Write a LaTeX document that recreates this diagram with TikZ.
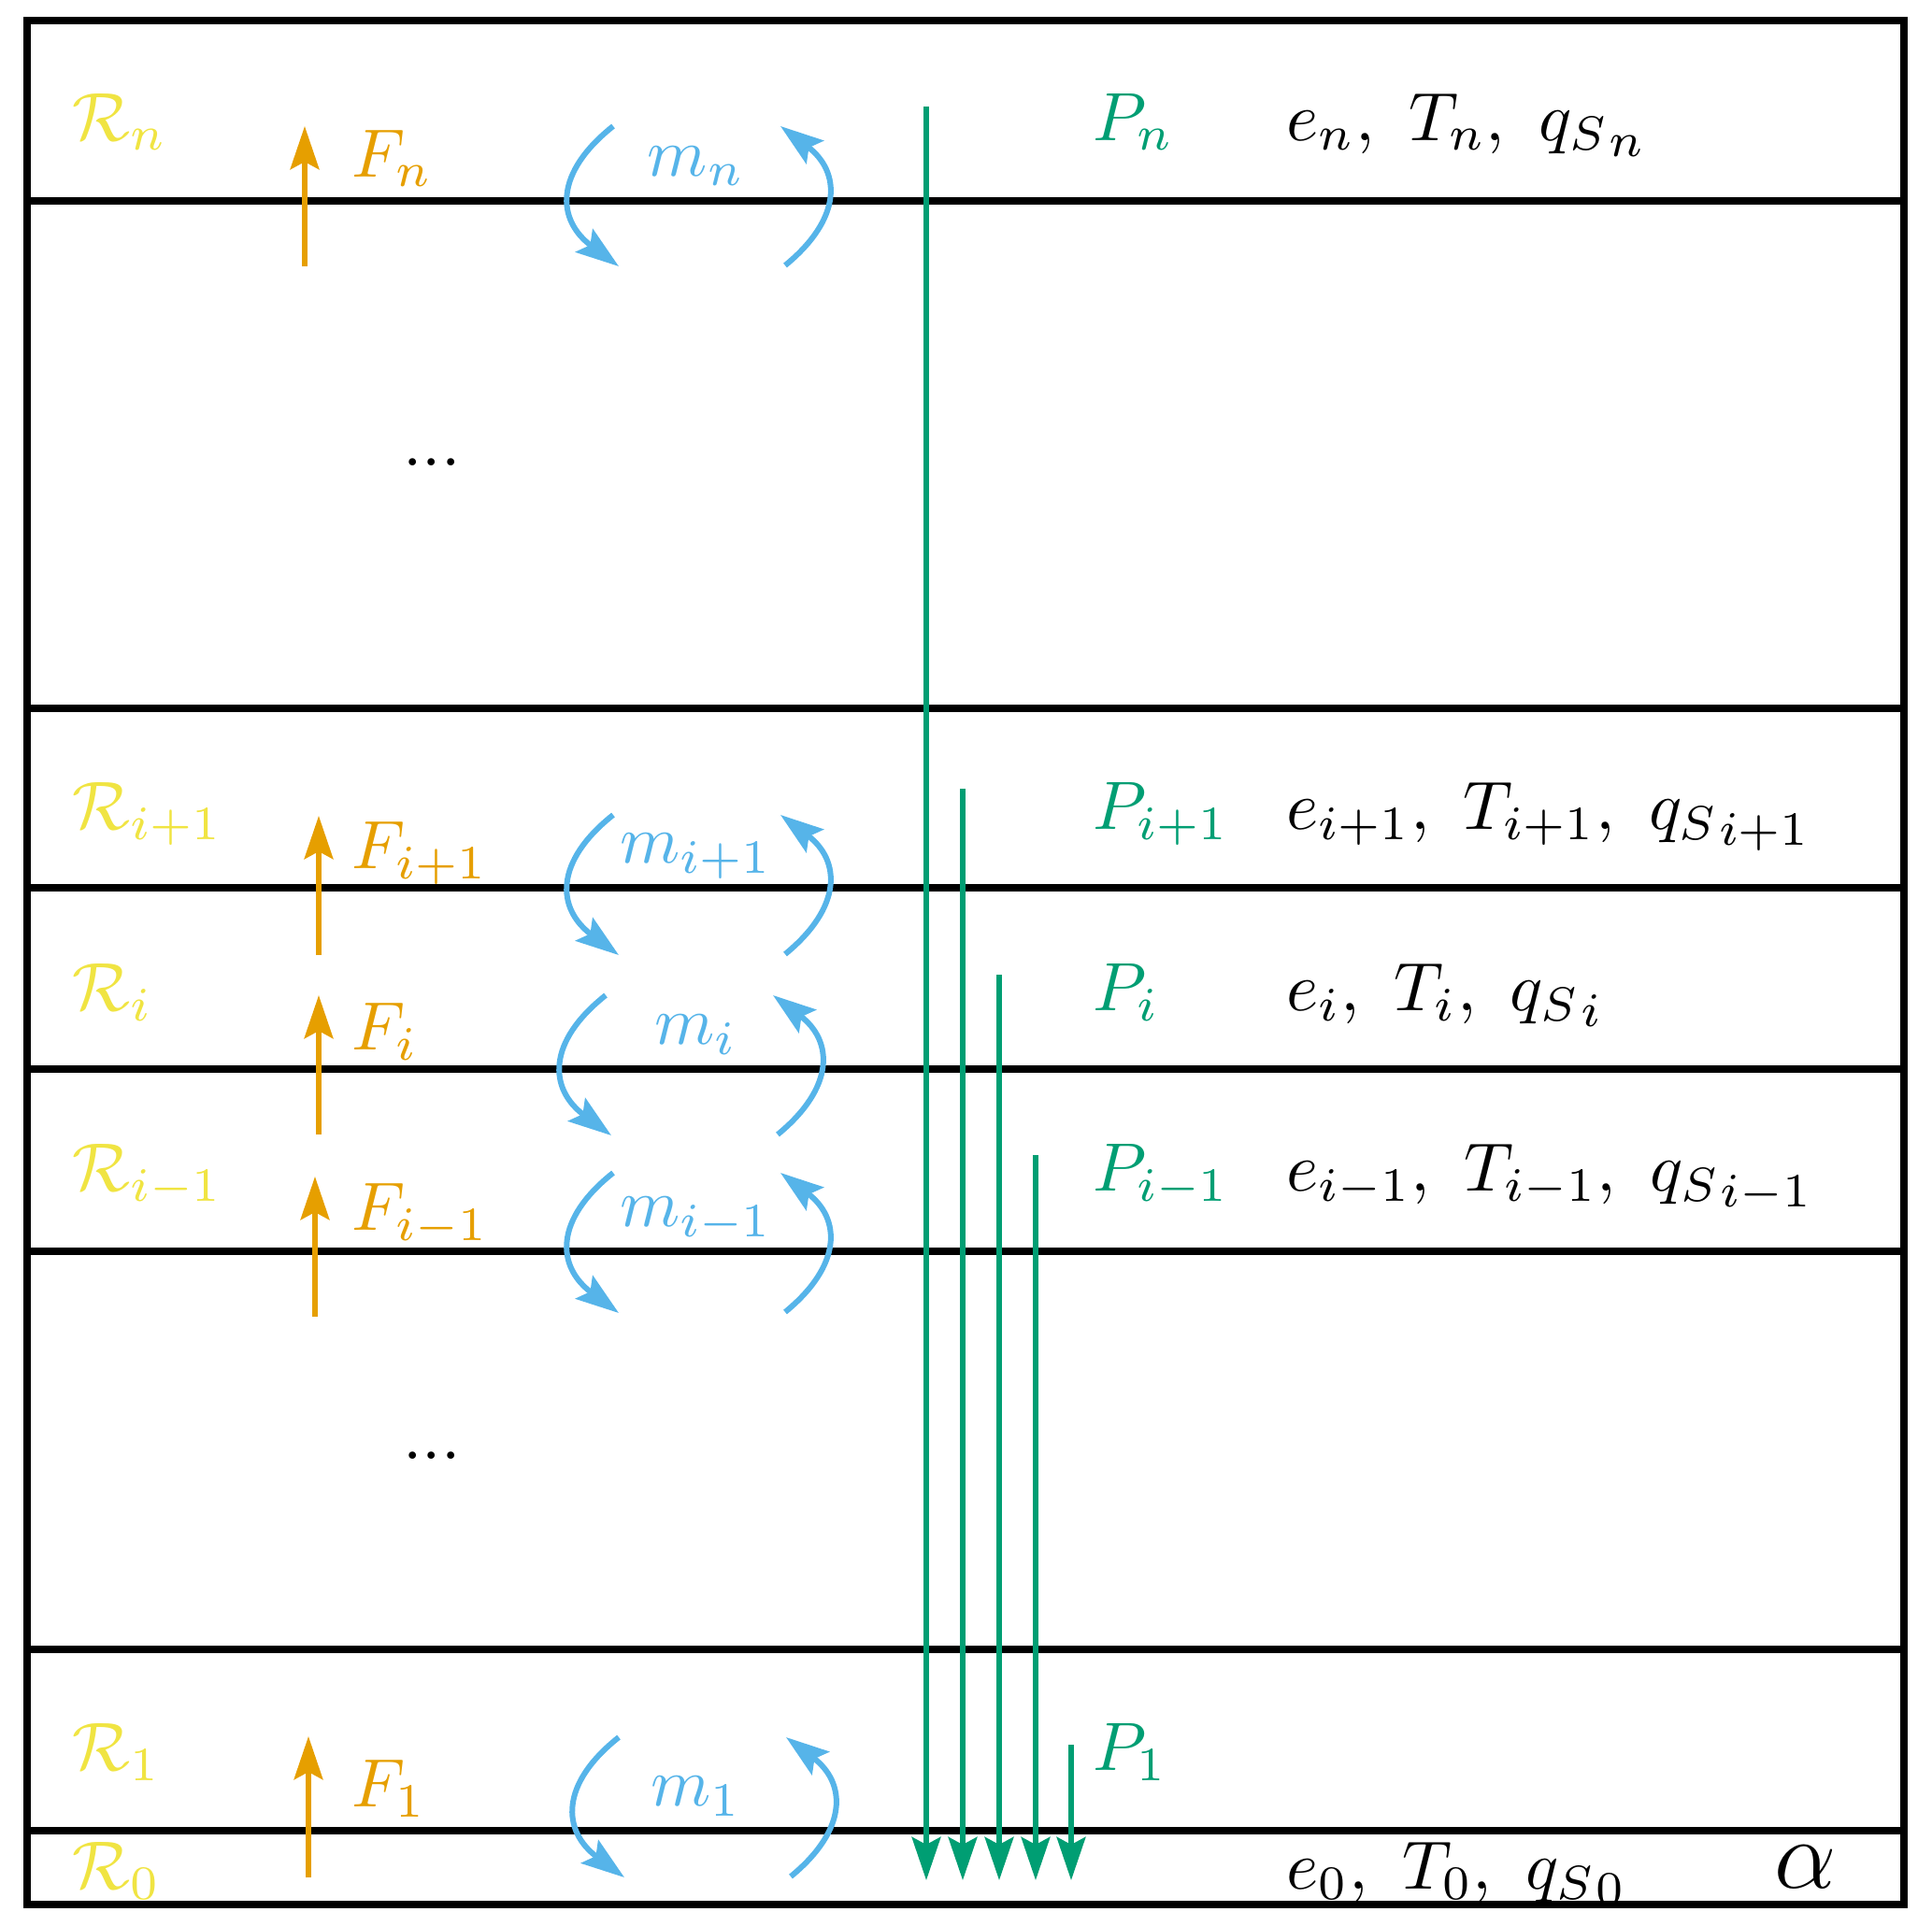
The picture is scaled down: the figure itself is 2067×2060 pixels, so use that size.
\documentclass[tikz,border=0pt]{standalone}
\usetikzlibrary{arrows.meta}
\definecolor{ryellow}{HTML}{F0E442}
\definecolor{forange}{HTML}{E69F00}
\definecolor{mblue}{HTML}{56B4E9}
\definecolor{pgreen}{HTML}{009E73}
\begin{document}
\begin{tikzpicture}[x=0.1366pt,y=-0.1366pt,
  lab/.style={inner sep=0pt,font=\normalsize},
  rlab/.style={lab,anchor=base west,text=ryellow},
  flab/.style={lab,anchor=base west,text=forange},
  mlab/.style={lab,anchor=base,text=mblue},
  plab/.style={lab,anchor=base west,text=pgreen},
  vlab/.style={lab,anchor=base west,text=black},
  hline/.style={line width=1.05pt,black},
  tipA/.style={-{Stealth[length=6.3pt,width=4.2pt,inset=1.1pt]}},
  farrow/.style={tipA,line width=0.8pt,forange},
  parrow/.style={tipA,line width=0.78pt,pgreen},
  marrow/.style={tipA,line width=0.82pt,mblue},
  mpair/.pic={
    \draw[marrow] (-91,-75) .. controls (-154,-25) and (-152,25) .. (-85,75);
    \draw[marrow] (93,74) .. controls (154,24) and (153,-26) .. (88,-75);
  }]
\useasboundingbox (0,0) rectangle (2067,2060);
% frame and layer lines
\draw[hline] (29,22) rectangle (2037,2038);
\foreach \yy in {215,758,950,1144,1339,1765,1959}
  \draw[hline] (29,\yy) -- (2037,\yy);
% region labels
\node[rlab] (Rn) at (76,150) {$\mathcal{R}_n$};
\node[rlab] (Rip) at (76,887) {$\mathcal{R}_{i+1}$};
\node[rlab] (Ri) at (76,1081) {$\mathcal{R}_i$};
\node[rlab] (Rim) at (76,1274) {$\mathcal{R}_{i-1}$};
\node[rlab] (R1) at (76,1894) {$\mathcal{R}_1$};
\node[rlab] (R0) at (76,2021) {$\mathcal{R}_0$};
% F arrows
\coordinate (fnb) at (326,285); \coordinate (fnt) at (326,135);
\coordinate (fipb) at (341,1022); \coordinate (fipt) at (341,873);
\coordinate (fib) at (341,1214); \coordinate (fit) at (341,1065);
\coordinate (fimb) at (337,1409); \coordinate (fimt) at (337,1259);
\coordinate (f1b) at (330,2009); \coordinate (f1t) at (330,1858);
\draw[farrow] (fnb) -- (fnt);
\draw[farrow] (fipb) -- (fipt);
\draw[farrow] (fib) -- (fit);
\draw[farrow] (fimb) -- (fimt);
\draw[farrow] (f1b) -- (f1t);
\node[flab] (Fn) at (375,189) {$F_n$};
\node[flab] (Fip) at (375,929) {$F_{i+1}$};
\node[flab] (Fi) at (375,1123) {$F_i$};
\node[flab] (Fim) at (375,1316) {$F_{i-1}$};
\node[flab] (F1) at (375,1933) {$F_1$};
% m exchanges
\pic at (747,210) {mpair};
\pic at (747,947) {mpair};
\pic at (739,1140) {mpair};
\pic at (747,1330) {mpair};
\pic at (753,1934) {mpair};
\node[mlab] (mn) at (745,188) {$m_n$};
\node[mlab] (mip) at (745,923) {$m_{i+1}$};
\node[mlab] (mi) at (745,1117) {$m_i$};
\node[mlab] (mim) at (745,1312) {$m_{i-1}$};
\node[mlab] (m1) at (745,1932) {$m_1$};
% dots
\node[lab,anchor=base] (d1) at (462,498) {...};
\node[lab,anchor=base] (d2) at (462,1561) {...};
% P arrows
\coordinate (pn) at (991,114); \coordinate (pne) at (991,2012);
\coordinate (pip) at (1030,844); \coordinate (pipe) at (1030,2012);
\coordinate (pi) at (1069,1043); \coordinate (pie) at (1069,2012);
\coordinate (pim) at (1108,1236); \coordinate (pime) at (1108,2012);
\coordinate (p1) at (1146,1867); \coordinate (p1e) at (1146,2012);
\draw[parrow] (pn) -- (pne);
\draw[parrow] (pip) -- (pipe);
\draw[parrow] (pi) -- (pie);
\draw[parrow] (pim) -- (pime);
\draw[parrow] (p1) -- (p1e);
\node[plab] (Pn) at (1168,150) {$P_n$};
\node[plab] (Pip) at (1168,887) {$P_{i+1}$};
\node[plab] (Pi) at (1168,1081) {$P_i$};
\node[plab] (Pim) at (1168,1274) {$P_{i-1}$};
\node[plab] (P1) at (1168,1894) {$P_1$};
% state variables
\node[vlab] (vn) at (1375,150) {$e_n,\ T_n,\ {q_S}_n$};
\node[vlab] (vip) at (1375,887) {$e_{i+1},\ T_{i+1},\ {q_S}_{i+1}$};
\node[vlab] (vi) at (1375,1081) {$e_i,\ T_i,\ {q_S}_i$};
\node[vlab] (vim) at (1375,1274) {$e_{i-1},\ T_{i-1},\ {q_S}_{i-1}$};
\node[vlab] (v0) at (1375,2021) {$e_0,\ T_0,\ {q_S}_0$};
\node[lab,anchor=base,font=\Large] (alpha) at (1932,2020) {$\alpha$};
\end{tikzpicture}
\end{document}
